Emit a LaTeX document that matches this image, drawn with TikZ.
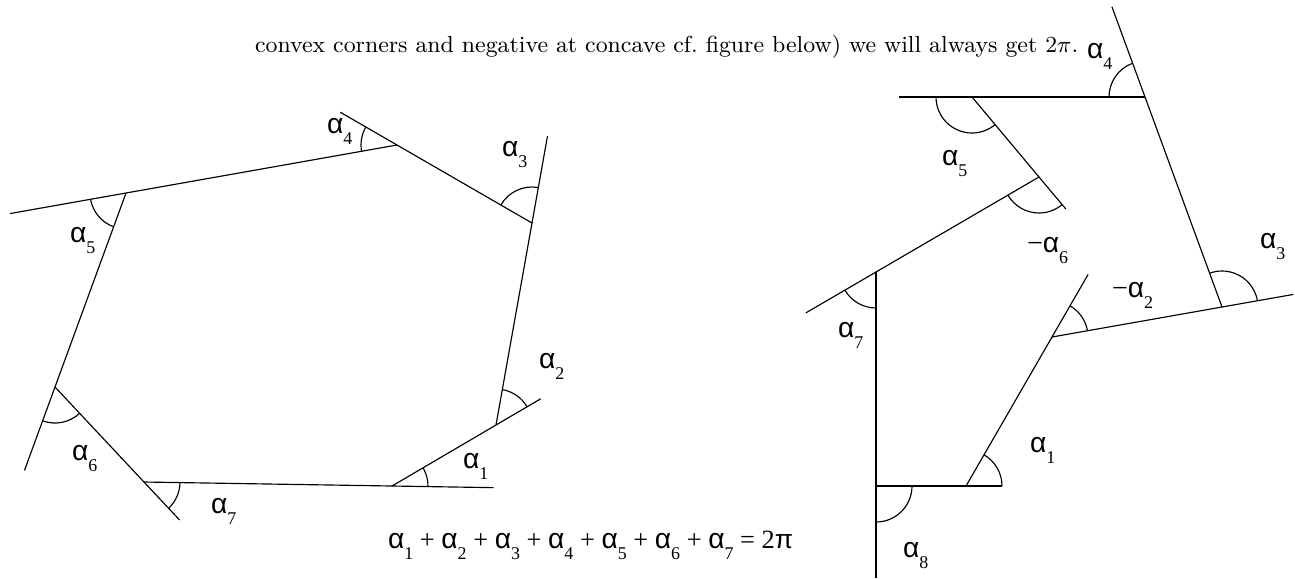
\documentclass[tikz,border=0pt]{standalone}
\usepackage{fontspec}
\usetikzlibrary{calc}
\newfontfamily\lsans{Liberation Sans}
\newfontfamily\lserif{Liberation Serif}
\newcommand\alsym{{\lsans\fontsize{11}{11}\selectfont α}}
\newcommand\alab[1]{\alsym\raisebox{-4.6pt}{\lserif\fontsize{7}{7}\selectfont #1}}
\newcommand\mlab[1]{{\lserif\fontsize{11}{11}\selectfont −}\alab{#1}}
\newcommand\angarc[3]{\draw[geo] (#1) ++(#2:36) arc[start angle=#2, end angle=#3, radius=36];}
\begin{document}
\begin{tikzpicture}[x=0.39pt,y=-0.39pt,
  geo/.style={line width=0.45pt, black},
  lab/.style={anchor=base west, inner sep=0pt, outer sep=0pt}]
\useasboundingbox (0,0) rectangle (1295,578);
% header
\node[lab, font=\fontsize{9.05}{11}\selectfont] (head) at (255,52)
  {convex corners and negative at concave cf.\ figure below) we will always get $2\pi$.};
% ---------- left polygon ----------
\coordinate (L1) at (392,486);
\coordinate (L2) at (496,425);
\coordinate (L3) at (532,223);
\coordinate (L4) at (397,145);
\coordinate (L5) at (126,193);
\coordinate (L6) at (55,387);
\coordinate (L7) at (144,482);
\coordinate (E45) at ($(L5)!-0.428!(L4)$);
\coordinate (E34) at ($(L4)!-0.42!(L3)$);
\coordinate (E23) at ($(L3)!-0.43!(L2)$);
\coordinate (E12) at ($(L2)!-0.43!(L1)$);
\coordinate (E71) at ($(L1)!-0.41!(L7)$);
\coordinate (E67) at ($(L7)!-0.4!(L6)$);
\coordinate (E56) at ($(L6)!-0.43!(L5)$);
\draw[geo] (E45) -- (L4);
\draw[geo] (E34) -- (L3);
\draw[geo] (E23) -- (L2);
\draw[geo] (L1) -- (E12);
\draw[geo] (L7) -- (E71);
\draw[geo] (L6) -- (E67);
\draw[geo] (E56) -- (L5);
\angarc{L1}{1}{-30}
\angarc{L2}{-30}{-80}
\angarc{L3}{-80}{-150}
\angarc{L4}{-150}{-190}
\angarc{L5}{-190}{-250}
\angarc{L6}{-250}{-313}
\angarc{L7}{47}{1}
\node[lab] (la1) at (463,468) {\alab{1}};
\node[lab] (la2) at (539,368) {\alab{2}};
\node[lab] (la3) at (502,156) {\alab{3}};
\node[lab] (la4) at (327,133) {\alab{4}};
\node[lab] (la5) at (70,242) {\alab{5}};
\node[lab] (la6) at (72,460) {\alab{6}};
\node[lab] (la7) at (211,513) {\alab{7}};
\node[lab, font=\lserif\fontsize{10.3}{11}\selectfont] (eq) at (388,548)
  {\alab{1} + \alab{2} + \alab{3} + \alab{4} + \alab{5} + \alab{6} + \alab{7} = 2{\lsans π}};
% ---------- right polygon ----------
\coordinate (R1) at (966,486);
\coordinate (R2) at (1052,337);
\coordinate (R3) at (1222,307);
\coordinate (R4) at (1145,97);
\coordinate (R5) at (972,97);
\coordinate (R6) at (1039,177);
\coordinate (R7) at (876,272);
\coordinate (R8) at (876,486);
\coordinate (T4) at ($(R4)!-0.43!(R3)$);
\coordinate (T3) at ($(R3)!-0.42!(R2)$);
\coordinate (T2) at ($(R2)!-0.42!(R1)$);
\coordinate (T1) at (1002,486);
\coordinate (T8) at (876,578);
\coordinate (T7) at ($(R7)!-0.43!(R6)$);
\coordinate (T6) at ($(R6)!-0.4!(R5)$);
\coordinate (T5) at (899,97);
\draw[geo] (T4) -- (R3);
\draw[geo] (R2) -- (T3);
\draw[geo] (R1) -- (T2);
\draw[geo] (R8) -- (T1);
\draw[geo] (R7) -- (T8);
\draw[geo] (T7) -- (R6);
\draw[geo] (R5) -- (T6);
\draw[geo] (T5) -- (R4);
\angarc{R1}{0}{-60}
\angarc{R2}{-10}{-60}
\angarc{R3}{-10}{-110}
\angarc{R4}{-110}{-180}
\angarc{R5}{-180}{-310}
\angarc{R6}{-210}{-310}
\angarc{R7}{-210}{-270}
\angarc{R8}{90}{0}
\node[lab] (ra1) at (1030,452) {\alab{1}};
\node[lab] (ra2) at (1112,297) {\mlab{2}};
\node[lab] (ra3) at (1260,248) {\alab{3}};
\node[lab] (ra4) at (1087,58) {\alab{4}};
\node[lab] (ra5) at (942,165) {\alab{5}};
\node[lab] (ra6) at (1027,252) {\mlab{6}};
\node[lab] (ra7) at (838,337) {\alab{7}};
\node[lab] (ra8) at (903,557) {\alab{8}};
\end{tikzpicture}
\end{document}
